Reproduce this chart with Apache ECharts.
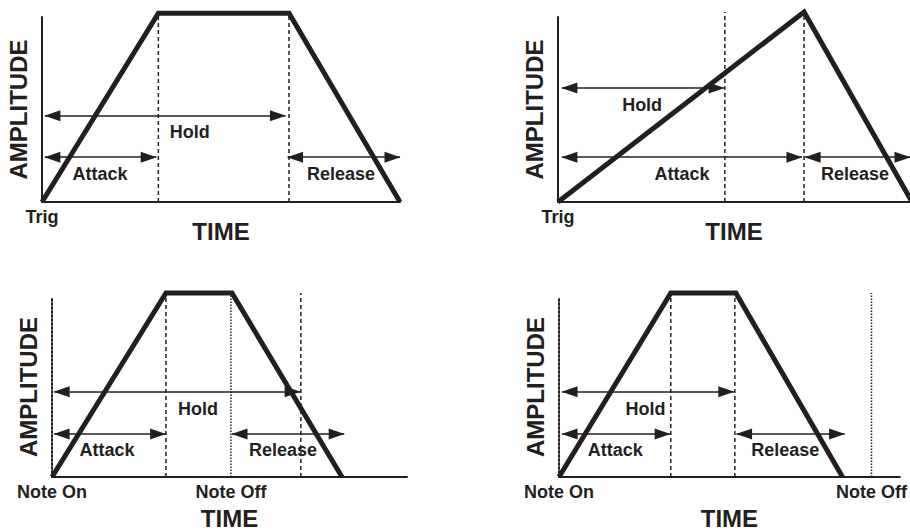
<!DOCTYPE html>
<html>
<head>
<meta charset="utf-8">
<title>Envelope modes</title>
<script src="https://cdn.jsdelivr.net/npm/echarts@6/dist/echarts.min.js"></script>
<style>
  html, body { margin: 0; padding: 0; background: #fff; }
  #chart { width: 910px; height: 531px; }
</style>
</head>
<body>
<div id="chart"></div>
<script>
// time runs 0..100 along each panel, amplitude 0..100 up to the top of the axis

// panel 1 - Trig, attack / hold / release
const env1Time = [0, 32.5, 69, 100]
const env1Amp = [0, 102, 102, 0]
const dash1 = [32.5, 69]
const hold1 = [0.8, 68, 46.6]
const attack1 = [0.8, 31.9, 24.2]
const release1 = [68.6, 100, 24.2]
const labels1 = [['Hold', 41.3, 37.8], ['Attack', 16.2, 15.4], ['Release', 83.5, 15.4]]

// panel 2 - Trig, hold shorter than attack
const env2Time = [0, 69.9, 100.6]
const env2Amp = [0, 102.7, 0]
const dash2 = [47.4, 69.9]
const hold2 = [1.1, 47.2, 61.6]
const attack2 = [1.1, 69.3, 24.2]
const release2 = [70.2, 100, 24.2]
const labels2 = [['Hold', 23.9, 52.4], ['Attack', 35.2, 15.4], ['Release', 84.4, 15.4]]

// panel 3 - Note On / Note Off, note off before hold ends
const env3Time = [0, 32.1, 50.7, 81.7]
const env3Amp = [0, 102.2, 102.2, 0]
const dash3 = [32.1, 70.1]
const dot3 = [50.4]
const hold3 = [0.6, 69.9, 47.3]
const attack3 = [0.6, 32, 23.9]
const release3 = [50.7, 82.3, 23.9]
const labels3 = [['Hold', 41.1, 38], ['Attack', 15.5, 15.2], ['Release', 65.1, 15.2]]
const ticks3 = [[0, 'Note On'], [50.4, 'Note Off']]

// panel 4 - Note On / Note Off, note off after release
const env4Time = [0, 32.8, 51.9, 83.2]
const env4Amp = [0, 102.2, 102.2, 0]
const dash4 = [32.8, 51.6]
const dot4 = [91.7]
const hold4 = [0.9, 51.3, 47.3]
const attack4 = [0.9, 32.6, 23.9]
const release4 = [52.1, 83.8, 23.9]
const labels4 = [['Hold', 25.4, 38], ['Attack', 16.5, 15.2], ['Release', 66.4, 15.2]]
const ticks4 = [[0, 'Note On'], [91.7, 'Note Off']]

const ticksTrig = [[0, 'Trig']]

const INK = '#231f20'
const FONT = 'Liberation Sans, Arial, sans-serif'

const panels = [
  { grid: { left: 42, top: 17, width: 358, height: 185 }, time: env1Time, amp: env1Amp, dash: dash1, dot: [],
    arrows: [hold1, attack1, release1], labels: labels1, ticks: ticksTrig, dottedAxis: false, timeGap: 17 },
  { grid: { left: 558, top: 17, width: 352, height: 185 }, time: env2Time, amp: env2Amp, dash: dash2, dot: [],
    arrows: [hold2, attack2, release2], labels: labels2, ticks: ticksTrig, dottedAxis: false, timeGap: 17 },
  { grid: { left: 52, top: 297, width: 355, height: 184 }, time: env3Time, amp: env3Amp, dash: dash3, dot: dot3,
    arrows: [hold3, attack3, release3], labels: labels3, ticks: ticks3, dottedAxis: true, timeGap: 29 },
  { grid: { left: 559, top: 297, width: 351, height: 184 }, time: env4Time, amp: env4Amp, dash: dash4, dot: dot4,
    arrows: [hold4, attack4, release4], labels: labels4, ticks: ticks4, dottedAxis: true, timeGap: 29 }
]

const grids = []
const xAxes = []
const yAxes = []
const series = []

panels.forEach(function(p, i) {
  grids.push(p.grid)
  const top = Math.max.apply(null, p.amp)

  xAxes.push({
    type: 'value', gridIndex: i, min: 0, max: 100,
    name: 'TIME', nameLocation: 'middle', nameGap: p.timeGap, nameMoveOverlap: false,
    nameTextStyle: { fontFamily: FONT, fontWeight: 'bold', fontSize: 24, color: INK },
    axisLine: { show: true, onZero: false, lineStyle: { color: INK, width: 2 } },
    axisTick: { show: false },
    splitLine: { show: false },
    axisLabel: {
      show: true, margin: 6,
      customValues: p.ticks.map(t => t[0]),
      formatter: function(v) {
        const t = p.ticks.find(t => Math.abs(t[0] - v) < 0.01)
        return t ? t[1] : ''
      },
      fontFamily: FONT, fontWeight: 'bold', fontSize: 18, color: INK
    }
  })

  yAxes.push({
    type: 'value', gridIndex: i, min: 0, max: 100,
    name: 'AMPLITUDE', nameLocation: 'middle', nameGap: 12, nameRotate: 90, nameMoveOverlap: false,
    nameTextStyle: { fontFamily: FONT, fontWeight: 'bold', fontSize: 24, color: INK },
    axisLine: { show: true, onZero: false,
      lineStyle: { color: INK, width: 2, type: p.dottedAxis ? [2, 2] : 'solid' } },
    axisTick: { show: false },
    axisLabel: { show: false },
    splitLine: { show: false }
  })

  // envelope, with the time span arrows hung on it
  series.push({
    type: 'line', xAxisIndex: i, yAxisIndex: i,
    data: p.time.map((t, k) => [t, p.amp[k]]),
    symbol: 'none', clip: false, z: 3,
    lineStyle: { color: INK, width: 5, join: 'miter', cap: 'butt' },
    markLine: {
      silent: true, animation: false,
      symbol: ['triangle', 'triangle'],
      symbolSize: [11, 16],
      symbolOffset: [[0, 7.5], [0, 7.5]],
      label: { show: false },
      lineStyle: { color: INK, width: 1.6, type: 'solid' },
      emphasis: { disabled: true },
      data: p.arrows.map(a => [{ coord: [a[0], a[2]] }, { coord: [a[1], a[2]] }])
    }
  })

  p.dash.forEach(function(x) {
    series.push({
      type: 'line', xAxisIndex: i, yAxisIndex: i, symbol: 'none', clip: false, z: 2,
      data: [[x, 0], [x, top]],
      lineStyle: { color: INK, width: 1.5, type: [4, 3] }
    })
  })
  p.dot.forEach(function(x) {
    series.push({
      type: 'line', xAxisIndex: i, yAxisIndex: i, symbol: 'none', clip: false, z: 2,
      data: [[x, 0], [x, top]],
      lineStyle: { color: INK, width: 1.5, type: [1.5, 1.5] }
    })
  })

  series.push({
    type: 'scatter', xAxisIndex: i, yAxisIndex: i, symbolSize: 0, z: 4,
    itemStyle: { color: INK, opacity: 1 },
    data: p.labels.map(l => ({ name: l[0], value: [l[1], l[2]] })),
    label: {
      show: true, position: 'inside', formatter: '{b}',
      fontFamily: FONT, fontWeight: 'bold', fontSize: 18, color: INK,
      textBorderWidth: 0
    }
  })
})

const chart = echarts.init(document.getElementById('chart'), null, { renderer: 'svg' })
chart.setOption({
  animation: false,
  backgroundColor: '#fff',
  grid: grids,
  xAxis: xAxes,
  yAxis: yAxes,
  series: series
})
</script>
</body>
</html>
